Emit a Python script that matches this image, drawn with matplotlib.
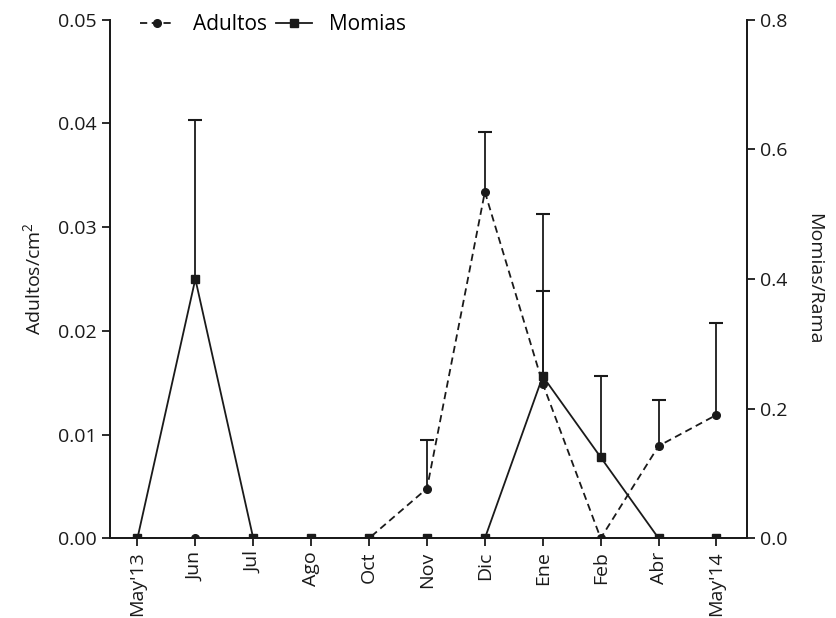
import numpy as np
import matplotlib
matplotlib.use('Agg')
import matplotlib.pyplot as plt

plt.rcParams['font.family'] = ['Open Sans', 'DejaVu Sans']
plt.rcParams['mathtext.default'] = 'regular'

# data
months = ["May'13", 'Jun', 'Jul', 'Ago', 'Oct', 'Nov', 'Dic', 'Ene', 'Feb', 'Abr', "May'14"]
adultos = [0, 0, 0, 0, 0, 0.0048, 0.0334, 0.0149, 0, 0.0089, 0.0119]
adultos_err = [0, 0, 0, 0, 0, 0.0047, 0.0058, 0.0089, 0, 0.0044, 0.0089]
momias = [0, 0.4, 0, 0, 0, 0, 0, 0.25, 0.125, 0, 0]
momias_err = [0, 0.245, 0, 0, 0, 0, 0, 0.25, 0.125, 0, 0]

x = np.arange(len(months))
col = '#1a1a1a'

fig = plt.figure(figsize=(8.37, 6.18), dpi=100)
ax = fig.add_axes([0.131, 0.129, 0.761, 0.839])
ax2 = ax.twinx()


def upper_err(a, vals, errs):
    vals = np.array(vals)
    errs = np.array(errs)
    m = errs > 0
    a.vlines(x[m], vals[m], vals[m] + errs[m], color=col, lw=1.3)
    a.plot(x[m], vals[m] + errs[m], ls='none', marker='_', ms=10, mew=1.5, color=col)


upper_err(ax, adultos, adultos_err)
upper_err(ax2, momias, momias_err)

l1, = ax.plot(x, adultos, ls='--', color=col, lw=1.3, marker='o', ms=5.5, label='Adultos', dashes=(4, 2.5))
l2, = ax2.plot(x, momias, ls='-', color=col, lw=1.3, marker='s', ms=5.5, label='Momias')

ax.set_xlim(-0.48, 10.52)
ax.set_ylim(0, 0.05)
ax2.set_ylim(0, 0.8)
ax.set_yticks([0, 0.01, 0.02, 0.03, 0.04, 0.05])
ax.set_yticklabels(['0.00', '0.01', '0.02', '0.03', '0.04', '0.05'])
ax2.set_yticks([0, 0.2, 0.4, 0.6, 0.8])
ax2.set_yticklabels(['0.0', '0.2', '0.4', '0.6', '0.8'])
ax.set_xticks(x)
ax.set_xticklabels(months, rotation=90)

for a in (ax, ax2):
    a.spines['top'].set_visible(False)
    for s in a.spines.values():
        s.set_linewidth(1.3)
        s.set_color(col)
    a.tick_params(direction='out', length=6, width=1.3, labelsize=14, colors=col)

ax.set_ylabel('Adultos/cm$^2$', fontsize=14, color=col, labelpad=10)
ax2.set_ylabel('Momias/Rama', fontsize=14, color=col, rotation=-90, labelpad=26)

ax.legend(handles=[l1, l2], loc='center left', bbox_to_anchor=(0.047, 0.99), ncol=2,
          frameon=False, fontsize=15, handlelength=1.7, columnspacing=0.45,
          handletextpad=0.85, borderpad=0, borderaxespad=0)

fig.savefig('out.png', dpi=100)
